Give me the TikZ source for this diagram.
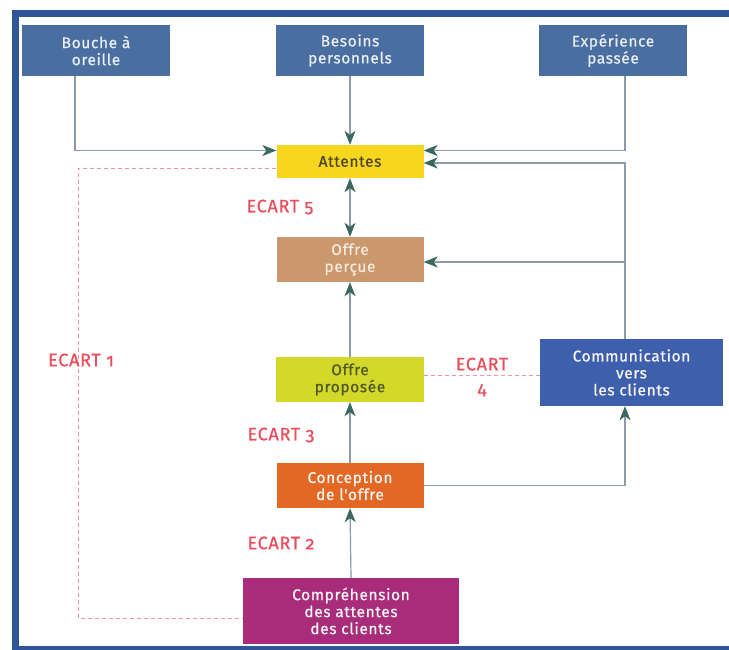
\documentclass[tikz,border=0pt]{standalone}
\usepackage{fontspec}
\setmainfont{Fira Sans}
\newfontfamily\boxfont[LetterSpace=4,FakeBold=0.7]{Fira Sans}
\newfontfamily\gapfont[Numbers=OldStyle,LetterSpace=4,FakeBold=0.7]{Fira Sans}
\usetikzlibrary{arrows.meta}

\definecolor{framec}{RGB}{47,85,151}
\definecolor{topblue}{RGB}{74,110,160}
\definecolor{toptext}{RGB}{232,238,245}
\definecolor{attfill}{RGB}{247,214,30}
\definecolor{atttext}{RGB}{75,69,45}
\definecolor{percfill}{RGB}{202,152,108}
\definecolor{perctext}{RGB}{245,232,220}
\definecolor{propfill}{RGB}{212,216,40}
\definecolor{proptext}{RGB}{79,88,44}
\definecolor{commfill}{RGB}{62,96,172}
\definecolor{concfill}{RGB}{226,104,36}
\definecolor{compfill}{RGB}{168,44,122}
\definecolor{lighttext}{RGB}{246,246,246}
\definecolor{linec}{RGB}{140,155,170}
\definecolor{tipc}{RGB}{60,104,98}
\definecolor{gapc}{RGB}{232,78,92}
\definecolor{gapline}{RGB}{240,150,160}

\begin{document}
\begin{tikzpicture}[x=1pt,y=-1pt,
  box/.style={rectangle, inner sep=0pt, align=center,
    font=\boxfont\fontsize{15.5}{17}\selectfont},
  conn/.style={draw=linec, line width=1.2pt, -{Stealth[length=14pt,width=11pt,inset=4pt,color=tipc]}},
  both/.style={draw=linec, line width=1.2pt,
    {Stealth[length=14pt,width=11pt,inset=4pt,color=tipc]}-{Stealth[length=14pt,width=11pt,inset=4pt,color=tipc]}},
  gap/.style={draw=gapline, line width=0.8pt, dash pattern=on 4pt off 3pt},
  gaplabel/.style={text=gapc, inner sep=0pt, align=center,
    font=\gapfont\fontsize{18}{24}\selectfont}
]
\useasboundingbox (0,0) rectangle (729,649);
\fill[white] (0,0) rectangle (729,649);

% outer frame
\draw[framec, line width=7pt] (735,13.5) -- (15.5,13.5) -- (15.5,649.5) -- (735,649.5);

% boxes
\node[box, fill=topblue, text=toptext, minimum width=148pt, minimum height=51pt]
  (bouche) at (96,50.5) {Bouche à\\oreille};
\node[box, fill=topblue, text=toptext, minimum width=148pt, minimum height=51pt]
  (besoins) at (350,50.5) {Besoins\\personnels};
\node[box, fill=topblue, text=toptext, minimum width=148pt, minimum height=51pt]
  (experience) at (613,50.5) {Expérience\\passée};
\node[box, fill=attfill, text=atttext, minimum width=147pt, minimum height=33pt]
  (attentes) at (350,161.5) {Attentes};
\node[box, fill=percfill, text=perctext, minimum width=147pt, minimum height=45pt]
  (percue) at (350,259.5) {Offre\\perçue};
\node[box, fill=propfill, text=proptext, minimum width=148pt, minimum height=45pt]
  (proposee) at (350,379.5) {Offre\\proposée};
\node[box, fill=commfill, text=lighttext, minimum width=183pt, minimum height=67pt]
  (comm) at (631.5,372.5) {Communication\\vers\\les clients};
\node[box, fill=concfill, text=lighttext, minimum width=147pt, minimum height=45pt]
  (conception) at (350,485.5) {Conception\\de l'offre};
\node[box, fill=compfill, text=lighttext, minimum width=216pt, minimum height=66pt]
  (comprehension) at (351,611) {Compréhension\\des attentes\\des clients};

% guide coordinates for bends
\coordinate (lx) at (75,0);
\coordinate (rx) at (625,0);
\coordinate (gx) at (78,0);
\coordinate (ya) at (0,150.5);
\coordinate (yb) at (0,163);
\coordinate (yg) at (0,168);
\coordinate (yc) at (0,262);
\coordinate (yd) at (0,375);
\coordinate (ye) at (0,618);

% connectors
\draw[conn] (bouche.south -| lx) |- (attentes.west |- ya);
\draw[conn] (besoins.south) -- (attentes.north);
\draw[conn] (experience.south -| rx) |- (attentes.east |- ya);
\draw[conn] (comm.north -| rx) |- (attentes.east |- yb);
\draw[conn] (comm.north -| rx) |- (percue.east |- yc);
\draw[both] (attentes.south) -- (percue.north);
\draw[conn] (proposee.north) -- (percue.south);
\draw[conn] (conception.north) -- (proposee.south);
\draw[conn] (comprehension.north) -- (conception.south);
\draw[conn] (conception.east) -| (comm.south -| rx);

% gaps
\draw[gap] (proposee.east |- yd) -- (comm.west |- yd);
\draw[gap] (attentes.west |- yg) -| (gx |- ye) -- (comprehension.west |- ye);

% gap labels
\node[gaplabel] (e5) at (280,207) {ECART 5};
\node[gaplabel] (e1) at (81,360) {ECART 1};
\node[gaplabel] (e4) at (482,377) {ECART\\4};
\node[gaplabel] (e3) at (281,435) {ECART 3};
\node[gaplabel] (e2) at (281,543) {ECART 2};
\end{tikzpicture}
\end{document}
